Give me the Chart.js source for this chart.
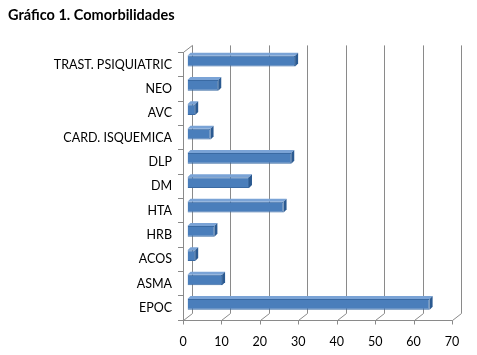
<!DOCTYPE html>
<html>
<head>
<meta charset="utf-8">
<script src="https://cdn.jsdelivr.net/npm/chart.js@4.4.1/dist/chart.umd.min.js"></script>
<style>
  html, body { margin: 0; padding: 0; background: #fff; }
  #wrap { width: 477px; height: 355px; }
</style>
</head>
<body>
<div id="wrap"><canvas id="bar-chart" width="477" height="355"></canvas></div>
<script>
var categories = ['TRAST. PSIQUIATRIC', 'NEO', 'AVC', 'CARD. ISQUEMICA', 'DLP', 'DM', 'HTA', 'HRB', 'ACOS', 'ASMA', 'EPOC'];
var values = [28, 8, 2, 6, 27, 16, 25, 7, 2, 9, 63];
var xTicks = [0, 10, 20, 30, 40, 50, 60, 70];

var DX = 9, DY = 7;  // wall depth
var BAR_DEPTH = 3;   // bar top/side depth

// back wall, floor lines and 3d bar faces
var fake3d = {
    id: 'fake3d',
    beforeDatasetsDraw: function(chart){
        var c = chart.ctx, a = chart.chartArea, xs = chart.scales.x;
        var L = Math.round(a.left) + 0.5, B = Math.round(a.bottom) + 0.5;
        c.save();
        c.strokeStyle = '#8a8a8a';
        c.lineWidth = 1;
        c.beginPath();
        xTicks.forEach(function(v){
            var px = Math.round(xs.getPixelForValue(v)) + 0.5;
            c.moveTo(px + DX, a.top - DY);
            c.lineTo(px + DX, B - DY);
            c.lineTo(px, B);
            c.lineTo(px, B + 4);
        });
        c.moveTo(L, B);
        c.lineTo(Math.round(a.right) + 0.5, B);
        c.moveTo(L, a.top);
        c.lineTo(L + DX, a.top - DY);
        c.stroke();
        c.restore();
        // bars sit in the middle of the depth
        c.save();
        c.translate(DX / 2, -DY / 2);
    },
    afterDatasetsDraw: function(chart){
        var c = chart.ctx;
        var meta = chart.getDatasetMeta(0);
        meta.data.forEach(function(bar){
            var x0 = bar.base, x1 = bar.x;
            var top = bar.y - bar.height / 2, bot = bar.y + bar.height / 2;
            var d = BAR_DEPTH;
            c.fillStyle = '#7aa3d6';
            c.beginPath();
            c.moveTo(x0, top);
            c.lineTo(x0 + d, top - d);
            c.lineTo(x1 + d, top - d);
            c.lineTo(x1, top);
            c.closePath();
            c.fill();
            c.fillStyle = '#2b5a91';
            c.beginPath();
            c.moveTo(x1, top);
            c.lineTo(x1 + d, top - d);
            c.lineTo(x1 + d, bot - d);
            c.lineTo(x1, bot);
            c.closePath();
            c.fill();
        });
        c.restore();
    }
};

var ctx = document.getElementById('bar-chart').getContext('2d');

var barChart = new Chart(ctx, {
    type: 'bar',
    data: {
        labels: categories,
        datasets: [{
            label: 'Comorbilidades',
            data: values,
            backgroundColor: '#4a7ebb',
            borderColor: '#3a6aa3',
            borderWidth: 1,
            barPercentage: 0.44,
            categoryPercentage: 1
        }]
    },
    options: {
        indexAxis: 'y',
        responsive: false,
        animation: false,
        layout: { padding: { left: 8, right: 25, top: 0, bottom: 0 } },
        plugins: {
            legend: { display: false },
            tooltip: { enabled: false },
            title: {
                display: true,
                text: 'Gráfico 1. Comorbilidades',
                align: 'start',
                color: '#000',
                font: { family: 'Lato', size: 14.5, weight: 'bold' },
                padding: { top: 7, bottom: 28 }
            }
        },
        scales: {
            x: {
                min: 0,
                max: 70,
                afterFit: function(scale){ scale.height = 35; },
                ticks: { stepSize: 10, color: '#000', font: { family: 'Lato', size: 12.5 }, padding: 14, maxRotation: 0 },
                grid: { display: false, drawTicks: false },
                border: { display: false }
            },
            y: {
                afterFit: function(scale){ scale.width = 175; },
                ticks: { color: '#000', font: { family: 'Lato', size: 12.5 }, padding: 6 },
                grid: { drawOnChartArea: false, drawTicks: true, tickLength: 5, color: '#8a8a8a' },
                border: { display: true, color: '#8a8a8a' }
            }
        }
    },
    plugins: [fake3d]
});
</script>
</body>
</html>
